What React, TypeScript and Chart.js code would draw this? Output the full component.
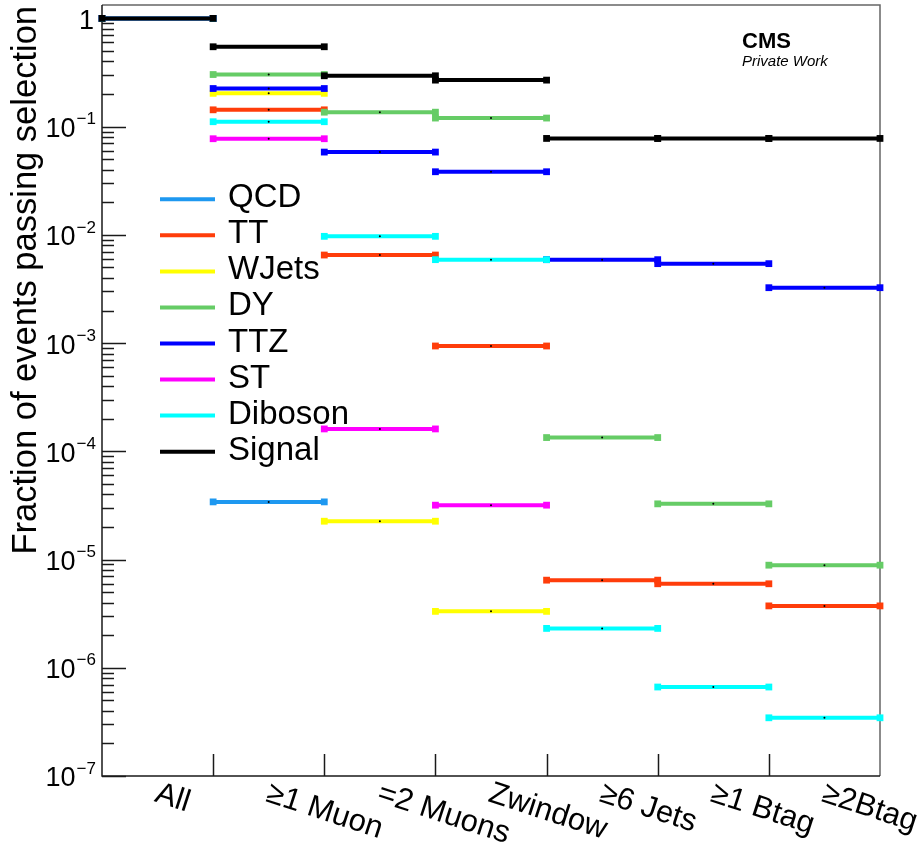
import React, { useEffect, useRef } from "react";
import { Chart, registerables } from "chart.js";

Chart.register(...registerables);

// Selection steps (one bin each)
const cutLabels = ["All", "≥1 Muon", "=2 Muons", "Zwindow", "≥6 Jets", "≥1 Btag", "≥2Btag"];

// Samples, in legend order
const sampleNames = ["QCD", "TT", "WJets", "DY", "TTZ", "ST", "Diboson", "Signal"];
const sampleColors = ["#1e98f0", "#ff3d0a", "#ffff00", "#66cc66", "#0000ff", "#ff00ff", "#00ffff", "#000000"];

// Fraction of events passing each selection step (null = no events left)
const qcd = [1, 3.41e-5, null, null, null, null, null];
const tt = [1, 0.143, 0.00651, 9.4e-4, 6.45e-6, 5.97e-6, 3.73e-6];
const wjets = [1, 0.203, 2.26e-5, 3.32e-6, null, null, null];
const dy = [1, 0.303, 0.136, 0.12, 1.34e-4, 3.27e-5, 8.87e-6];
const ttz = [1, 0.225, 0.0582, 0.0383, 0.0059, 0.00542, 0.00325];
const st = [1, 0.0773, 1.61e-4, 3.18e-5, null, null, null];
const diboson = [1, 0.111, 0.00969, 0.0059, 2.31e-6, 6.64e-7, 3.45e-7];
const signal = [1, 0.547, 0.295, 0.269, 0.0778, 0.0778, 0.0778];

const sampleValues = [qcd, tt, wjets, dy, ttz, st, diboson, signal];

// Decade tick labels on the log axis
const yExponents = [0, -1, -2, -3, -4, -5, -6, -7];
const yMin = 1e-7;
const yMax = 1.33;

const FONT = "'Liberation Sans', Arial, Helvetica, sans-serif";

// Each bin becomes a flat segment: low edge, centre, high edge, then a gap
function binSegments(values: (number | null)[]) {
  const pts: { x: number; y: number | null }[] = [];
  values.forEach((v, i) => {
    if (v === null) return;
    pts.push({ x: i, y: v }, { x: i + 0.5, y: v }, { x: i + 1, y: v }, { x: i + 1, y: null });
  });
  return pts;
}

const decorPlugin = {
  id: "cutflowDecor",
  beforeDatasetsDraw(chart: any) {
    const { ctx, chartArea: a, scales } = chart;
    const xs = scales.x;
    const ys = scales.y;
    ctx.save();
    // frame
    ctx.lineWidth = 1.5;
    ctx.strokeStyle = "#666";
    ctx.beginPath();
    ctx.moveTo(a.left, a.top);
    ctx.lineTo(a.right, a.top);
    ctx.lineTo(a.right, a.bottom);
    ctx.stroke();
    ctx.strokeStyle = "#1a1a1a";
    ctx.beginPath();
    ctx.moveTo(a.left, a.top);
    ctx.lineTo(a.left, a.bottom);
    ctx.lineTo(a.right, a.bottom);
    ctx.stroke();

    // y ticks: majors at decades, minors at 2..9
    ctx.lineWidth = 1.5;
    ctx.strokeStyle = "#1a1a1a";
    yExponents.forEach((e) => {
      for (let m = 1; m <= 9; m++) {
        const v = m * Math.pow(10, e);
        if (v > yMax || v < yMin) continue;
        const py = Math.round(ys.getPixelForValue(v)) + 0.5;
        const len = m === 1 ? 24 : 12;
        ctx.beginPath();
        ctx.moveTo(a.left, py);
        ctx.lineTo(a.left + len, py);
        ctx.stroke();
      }
    });

    // x ticks at bin edges
    for (let i = 1; i < cutLabels.length; i++) {
      const px = Math.round(xs.getPixelForValue(i)) + 0.5;
      ctx.beginPath();
      ctx.moveTo(px, a.bottom);
      ctx.lineTo(px, a.bottom - 22);
      ctx.stroke();
    }
    ctx.restore();
  },
  afterDraw(chart: any) {
    const { ctx, chartArea: a, scales } = chart;
    const xs = scales.x;
    const ys = scales.y;
    ctx.save();
    ctx.fillStyle = "#000";

    // y tick labels
    const labelRight = a.left - 6;
    yExponents.forEach((e) => {
      const py = ys.getPixelForValue(Math.pow(10, e));
      ctx.textBaseline = "middle";
      if (e === 0) {
        ctx.font = `27px ${FONT}`;
        ctx.textAlign = "right";
        ctx.fillText("1", labelRight - 2, py + 3);
        return;
      }
      const sup = "\u2212" + String(-e);
      ctx.font = `17px ${FONT}`;
      const supW = ctx.measureText(sup).width;
      ctx.textAlign = "left";
      ctx.fillText(sup, labelRight - supW, py - 7);
      ctx.font = `27px ${FONT}`;
      ctx.textAlign = "right";
      ctx.fillText("10", labelRight - supW - 1, py + 3);
    });

    // tilted bin labels
    ctx.font = `31px ${FONT}`;
    ctx.textAlign = "left";
    ctx.textBaseline = "alphabetic";
    cutLabels.forEach((lab, i) => {
      const cx = xs.getPixelForValue(i + 0.5);
      ctx.save();
      ctx.translate(cx - 4, a.bottom + 25);
      ctx.rotate((18 * Math.PI) / 180);
      ctx.fillText(lab, 0, 0);
      ctx.restore();
    });

    // y axis title
    ctx.save();
    ctx.font = `34.5px ${FONT}`;
    ctx.translate(36, 6);
    ctx.rotate(-Math.PI / 2);
    ctx.textAlign = "right";
    ctx.textBaseline = "alphabetic";
    ctx.fillText("Fraction of events passing selection", 0, 0);
    ctx.restore();

    // legend
    const lx0 = a.left + 58;
    const lx1 = a.left + 113;
    const ly0 = 199.3;
    const dyRow = 36.05;
    chart.data.datasets.forEach((ds: any, i: number) => {
      const ly = ly0 + i * dyRow;
      ctx.strokeStyle = ds.borderColor;
      ctx.lineWidth = 4;
      ctx.beginPath();
      ctx.moveTo(lx0, ly);
      ctx.lineTo(lx1, ly);
      ctx.stroke();
      ctx.fillStyle = "#000";
      ctx.font = `33px ${FONT}`;
      ctx.textAlign = "left";
      ctx.textBaseline = "alphabetic";
      ctx.fillText(ds.label, a.left + 126, ly + 8);
    });

    // experiment tag
    ctx.fillStyle = "#000";
    ctx.textAlign = "left";
    ctx.font = `bold 22px ${FONT}`;
    ctx.fillText("CMS", 742, 48);
    ctx.font = `italic 15px ${FONT}`;
    ctx.fillText("Private Work", 742, 66);
    ctx.restore();
  },
};

export default function App() {
  const canvasRef = useRef<HTMLCanvasElement | null>(null);

  useEffect(() => {
    document.body.style.margin = "0";
    const canvas = canvasRef.current;
    if (!canvas) return;

    const datasets = sampleNames.map((name, i) => ({
      label: name,
      data: binSegments(sampleValues[i]),
      borderColor: sampleColors[i],
      backgroundColor: sampleColors[i],
      borderWidth: 4,
      borderCapStyle: "butt" as const,
      fill: false,
      tension: 0,
      spanGaps: false,
      clip: false as const,
      order: sampleNames.length - 1 - i,
      pointStyle: (c: any) => (c.dataIndex % 4 === 1 ? "circle" : "rect"),
      pointRadius: (c: any) => (c.dataIndex % 4 === 1 ? 1 : 4.8),
      pointBackgroundColor: (c: any) => (c.dataIndex % 4 === 1 ? "#000" : sampleColors[i]),
      pointBorderWidth: 0,
      pointHoverRadius: 0,
    }));

    const chart = new Chart(canvas, {
      type: "line",
      data: { datasets } as any,
      options: {
        animation: false,
        responsive: false,
        devicePixelRatio: 1,
        layout: { padding: { left: 102, right: 42, top: 5, bottom: 71 } },
        scales: {
          x: { type: "linear", min: 0, max: cutLabels.length, display: false },
          y: { type: "logarithmic", min: yMin, max: yMax, display: false },
        },
        plugins: {
          legend: { display: false },
          tooltip: { enabled: false },
        },
        events: [],
      },
      plugins: [decorPlugin],
    });
    return () => chart.destroy();
  }, []);

  return (
    <div style={{ width: 922, height: 847, background: "#fff" }}>
      <canvas ref={canvasRef} width={922} height={847} style={{ display: "block" }} />
    </div>
  );
}
